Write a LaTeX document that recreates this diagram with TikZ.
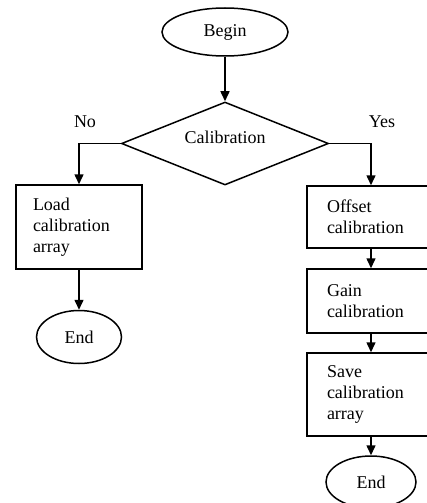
\documentclass[tikz,border=0pt]{standalone}
\usepackage{fontspec}
\setmainfont{Liberation Serif}
\usetikzlibrary{shapes.geometric,arrows.meta}

\begin{document}
\begin{tikzpicture}[x=1pt, y=-1pt, line width=1.5pt,
        every node/.style={font=\fontsize{18}{21}\selectfont},
        term/.style={draw, ellipse, inner sep=0pt},
        stepbox/.style={draw, rectangle, align=left, text width=#1, inner sep=0pt},
        flow/.style={-{Triangle[length=10pt,width=9pt]}}]
        \useasboundingbox (0,0) rectangle (427,503);

        % Start and decision
        \node[term, minimum width=126, minimum height=48] (begin) at (225,32) {Begin};
        \node[draw, diamond, inner sep=0pt, minimum width=207, minimum height=83] (calib) at (225,143.5) {};
        \node (calibtxt) at (225,137) {Calibration};
        \node (no) at (85,122) {No};
        \node (yes) at (382,122) {Yes};

        % No branch
        \node[stepbox=92pt, minimum width=126, minimum height=84] (load) at (79,227) {Load\\calibration\\array};
        \node[term, minimum width=85, minimum height=53] (endl) at (79,337) {End};

        % Yes branch
        \node[stepbox=88pt, minimum width=128, minimum height=62] (offset) at (371,217) {Offset\\calibration};
        \node[stepbox=88pt, minimum width=128, minimum height=64] (gain) at (371,301) {Gain\\calibration};
        \node[stepbox=88pt, minimum width=128, minimum height=83] (save) at (371,394.5) {Save\\calibration\\array};
        \node[term, minimum width=90, minimum height=52] (endr) at (371,482) {End};

        \draw[flow] (begin) -- (calib);
        \draw[flow] (calib.west) -| (load.north);
        \draw[flow] (load) -- (endl);
        \draw[flow] (calib.east) -| (offset.north);
        \draw[flow] (offset) -- (gain);
        \draw[flow] (gain) -- (save);
        \draw[flow] (save) -- (endr);
\end{tikzpicture}
\end{document}
